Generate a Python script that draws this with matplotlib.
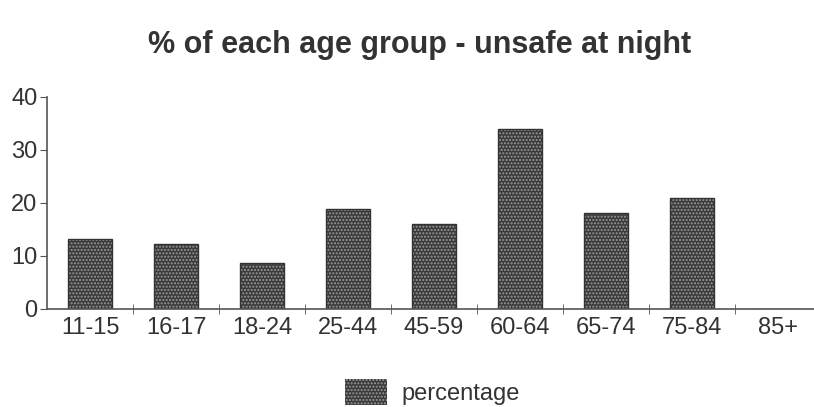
import numpy as np
import matplotlib
matplotlib.use('Agg')
import matplotlib.pyplot as plt
from matplotlib.patches import Patch

# Values
ages = ['11-15', '16-17', '18-24', '25-44', '45-59', '60-64', '65-74', '75-84', '85+']
percentage = [13.2, 12.3, 8.7, 18.9, 16.0, 34.0, 18.0, 21.0, 0.0]

plt.rcParams['font.family'] = ['Liberation Sans', 'DejaVu Sans']
txt = '#333333'
axc = '#555555'

fig = plt.figure(figsize=(8.14, 4.07), dpi=100)
ax = fig.add_axes([0.058, 0.241, 0.942, 0.521])

x = np.arange(len(ages))
# dotted fill, then outline
ax.bar(x, percentage, width=0.51, color='#3a3a3a', hatch='.....', edgecolor='#9a9a9a', linewidth=0)
ax.bar(x, percentage, width=0.51, fill=False, edgecolor='#333333', linewidth=1)

ax.set_xlim(-0.5, 8.42)
ax.set_ylim(0, 40)
ax.set_yticks([0, 10, 20, 30, 40])
ax.set_xticks(x)
ax.set_xticklabels(ages)
ax.set_xticks(np.arange(0.5, 8, 1), minor=True)
ax.tick_params(axis='x', which='major', length=0, labelsize=17, labelcolor=txt, pad=6)
ax.tick_params(axis='x', which='minor', length=7, direction='inout', color=axc)
ax.tick_params(axis='y', length=5, direction='out', labelsize=17, labelcolor=txt, color=axc, pad=2)
for s in ['top', 'right']:
    ax.spines[s].set_visible(False)
for s in ['left', 'bottom']:
    ax.spines[s].set_color(axc)
    ax.spines[s].set_linewidth(1.2)

fig.text(0.516, 0.889, '% of each age group - unsafe at night', ha='center', va='center',
         fontsize=22, fontweight='bold', color=txt)

handle = Patch(facecolor='#3a3a3a', hatch='.....', edgecolor='#9a9a9a', linewidth=0)
fig.legend([handle], ['percentage'], loc='center', bbox_to_anchor=(0.531, 0.037),
           frameon=False, fontsize=17, labelcolor=txt, handlelength=1.8, handleheight=1.3,
           handletextpad=0.6)

fig.savefig('out.png', dpi=100)
